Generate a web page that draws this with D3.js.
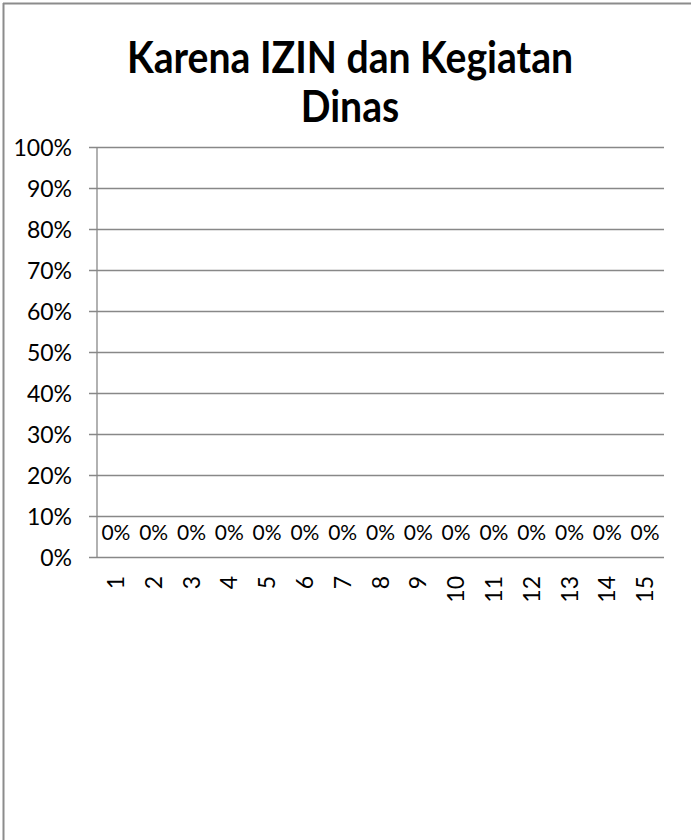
<!DOCTYPE html>
<html><head><meta charset="utf-8">
<script src="https://cdn.jsdelivr.net/npm/d3@7"></script>
<style>body{margin:0;background:#fff}svg{display:block}</style>
</head><body>
<svg id="c" width="691" height="840"></svg>
<script>
const categories = ["1","2","3","4","5","6","7","8","9","10","11","12","13","14","15"];
const values = [0,0,0,0,0,0,0,0,0,0,0,0,0,0,0];
const yTicks = [0,0.1,0.2,0.3,0.4,0.5,0.6,0.7,0.8,0.9,1.0];
const titleLines = ["Karena IZIN dan Kegiatan","Dinas"];

const svg = d3.select("#c");
const font = "Lato, 'Open Sans', sans-serif";
// frame
svg.append("line").attr("x1",3.5).attr("x2",3.5).attr("y1",3).attr("y2",840).attr("stroke","#8c8c8c").attr("stroke-width",2);
svg.append("line").attr("x1",3).attr("x2",691).attr("y1",3.5).attr("y2",3.5).attr("stroke","#8c8c8c").attr("stroke-width",2);

const L=97, R=664, T=147, B=557;
const x = d3.scaleBand().domain(categories).range([L,R]);
const y = d3.scaleLinear().domain([0,1]).range([B,T]);

// title (slightly condensed to mimic Calibri proportions)
svg.append("g").selectAll("text").data(titleLines).join("text")
  .attr("transform",(d,i)=>`translate(350,${73+i*49}) scale(0.91,1)`).attr("text-anchor","middle")
  .attr("font-family",font).attr("font-weight","bold").attr("font-size",43).attr("fill","#000").text(d=>d);

// grid
const yAxis = d3.axisLeft(y).tickValues(yTicks).tickFormat(d3.format(".0%")).tickSize(-(R-L)).tickPadding(25);
const gy = svg.append("g").attr("transform",`translate(${L},0)`).call(yAxis);
gy.select(".domain").remove();
gy.selectAll(".tick line").attr("stroke","#888").attr("x1",-8).attr("stroke-width",1.3);
gy.selectAll(".tick text").attr("font-family",font).attr("font-size",23).attr("fill","#000").attr("dy","0.35em");

// vertical axis line
svg.append("line").attr("x1",L).attr("x2",L).attr("y1",T).attr("y2",B).attr("stroke","#888").attr("stroke-width",1.3);

// bars (zero height)
svg.append("g").selectAll("rect").data(values).join("rect")
  .attr("x",(d,i)=>x(categories[i])+x.bandwidth()*0.2).attr("width",x.bandwidth()*0.6)
  .attr("y",d=>y(d)).attr("height",d=>B-y(d)).attr("fill","#4f81bd");

// data labels
svg.append("g").selectAll("text").data(values).join("text")
  .attr("x",(d,i)=>x(categories[i])+x.bandwidth()/2).attr("y",d=>y(d)-17)
  .attr("text-anchor","middle").attr("font-family",font).attr("font-size",21).attr("fill","#000")
  .text(d=>d3.format(".0%")(d));

// x labels rotated
const xAxis = d3.axisBottom(x).tickSize(0).tickPadding(0);
const gx = svg.append("g").attr("transform",`translate(0,${B})`).call(xAxis);
gx.select(".domain").remove();
gx.selectAll(".tick text").attr("font-family",font).attr("font-size",23).attr("fill","#000")
  .attr("transform","rotate(-90)").attr("text-anchor","end").attr("x",-19).attr("y",0).attr("dy","0.35em");
</script>
</body></html>
